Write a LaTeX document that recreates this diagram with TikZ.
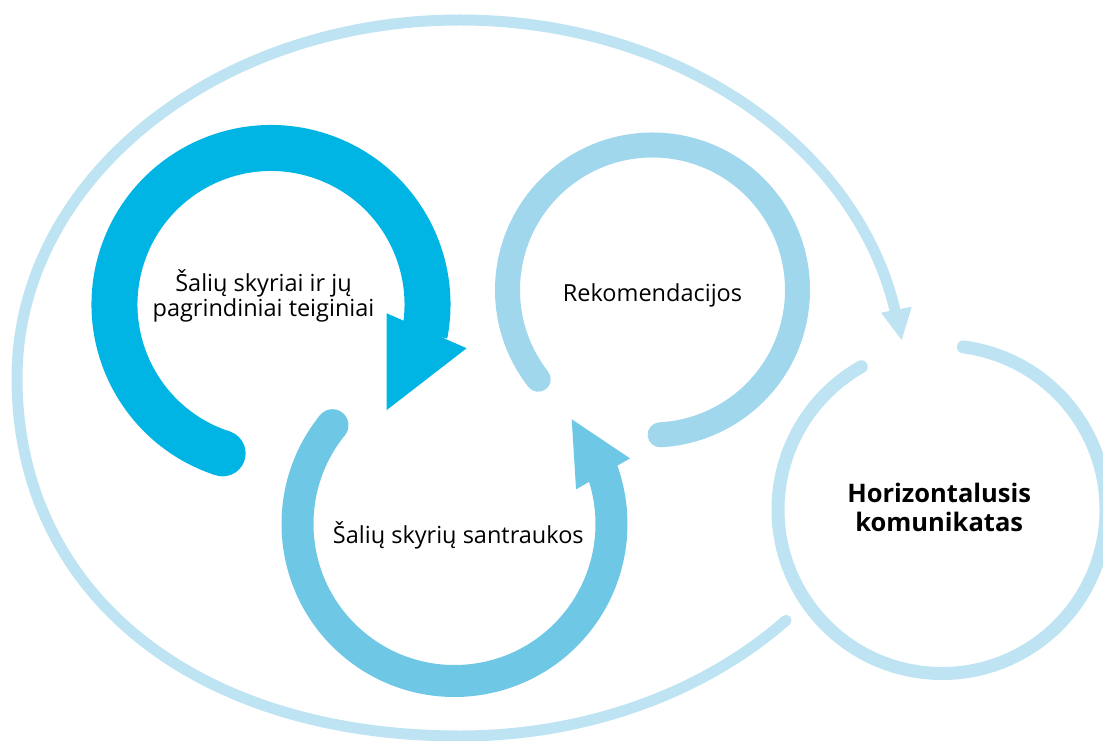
\documentclass[tikz,border=0pt]{standalone}
\usepackage{fontspec}
\setmainfont{Open Sans}
\usetikzlibrary{calc}
\definecolor{cone}{RGB}{0,180,227}
\definecolor{ctwo}{RGB}{110,200,229}
\definecolor{cthree}{RGB}{160,215,237}
\definecolor{cfour}{RGB}{190,227,242}
\begin{document}
\begin{tikzpicture}[x=1pt,y=1pt,
  lbl/.style={anchor=base, inner sep=0pt, font=\fontsize{23.5}{25}\selectfont},
  lblb/.style={anchor=base, inner sep=0pt, font=\fontsize{25.5}{30}\selectfont\bfseries}]
\useasboundingbox (0,0) rectangle (1103,740);
\clip (0,0) rectangle (1103,740);
\coordinate (c1) at (271,435.5);
\coordinate (c2) at (454.5,216);
\coordinate (c3) at (652.5,450);
\coordinate (c4) at (942,230.5);
\coordinate (cl) at (460,362);
% outer loop
\coordinate (loopstart) at ($(cl)+(-42.6:443pt and 358pt)$);
\draw[cfour, line width=11pt, line cap=round] (loopstart)
  arc[start angle=-42.6, end angle=-90, x radius=443pt, y radius=358pt]
  .. controls (194.2,4) and (17,147.2) .. (17,362)
  arc[start angle=180, end angle=11, x radius=443pt, y radius=358pt];
\fill[cfour] (881,427.3) -- (911.7,433.3) -- (901.7,400) -- cycle;
% circle 4
\draw[cfour, line width=13pt, line cap=round] ($(c4)+(82.5:164pt)$)
  arc[start angle=82.5, end angle=-240.5, radius=164pt];
% circle 3
\draw[cthree, line width=25pt, line cap=round] ($(c3)+(218:145pt)$)
  arc[start angle=218, end angle=-87, radius=145pt];
% circle 1
\coordinate (t1tail) at ($(c1)+(252:156.5pt)$);
\fill[cone] (t1tail) circle (23pt);
\draw[cone, line width=46pt] (t1tail) arc[start angle=252, end angle=-11, radius=156.5pt];
\fill[cone] ($(c1)+(-4.35:116pt)$) -- ($(c1)+(-12.6:200.5pt)$) -- ($(c1)+(-42.4:156.6pt)$) -- cycle;
% circle 2
\coordinate (t2tail) at ($(c2)+(141:157pt)$);
\fill[ctwo] (t2tail) circle (16pt);
\draw[ctwo, line width=32pt] (t2tail) arc[start angle=141, end angle=380.5, radius=157pt];
\fill[ctwo] ($(c2)+(15.9:126.4pt)$) -- ($(c2)+(20.5:187.4pt)$) -- ($(c2)+(41.8:157.2pt)$) -- cycle;
% labels
\node[lbl] (t1a) at (263.5,448.3) {Šalių skyriai ir jų};
\node[lbl] (t1b) at (263.5,423.3) {pagrindiniai teiginiai};
\node[lbl] (t2) at (458.3,196.7) {Šalių skyrių santraukos};
\node[lbl] (t3) at (652.5,438.3) {Rekomendacijos};
\node[lblb] (t4a) at (939.2,238) {Horizontalusis};
\node[lblb] (t4b) at (939.2,208.3) {komunikatas};
\end{tikzpicture}
\end{document}
